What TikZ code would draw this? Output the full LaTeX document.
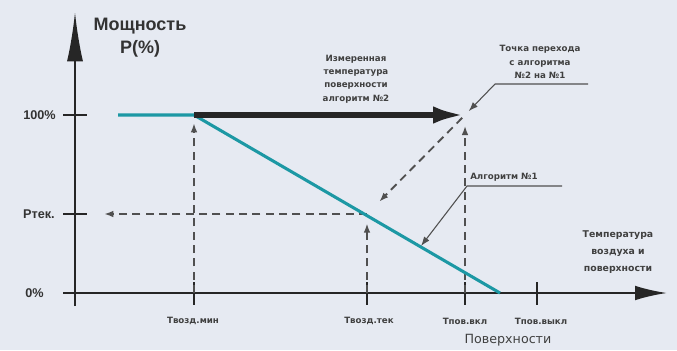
\documentclass[tikz,border=0pt]{standalone}
\usepackage{fontspec}
\setmainfont{Liberation Sans}
\newfontfamily\widefont{DejaVu Sans}
\usetikzlibrary{arrows.meta}
\definecolor{bgcol}{HTML}{E6EAF2}
\definecolor{tealline}{HTML}{1C98A4}
\definecolor{dashgrey}{HTML}{505050}

\begin{document}
\begin{tikzpicture}[x=0.75pt, y=-0.75pt,
                    axis/.style={line width=1.6pt, black!85},
                    tickmark/.style={line width=1.6pt, black!85},
                    guide/.style={dashgrey, line width=1.4pt,
                                  dash pattern=on 6pt off 4pt,
                                  -{Latex[length=7pt, width=5pt]}},
                    leader/.style={dashgrey, line width=0.8pt,
                                   -{Latex[length=7pt, width=5pt]}},
                    small/.style={font=\widefont\bfseries\fontsize{6.5}{10}\selectfont,
                                  text=black!75, align=center, inner sep=0pt},
                    level/.style={font=\bfseries\fontsize{9.5}{11}\selectfont,
                                  text=black!80, anchor=east, inner sep=0pt}]
    \fill[bgcol] (0,0) rectangle (677,350);
    \useasboundingbox (0,0) rectangle (677,350);

    \coordinate (O) at (75,293);
    \coordinate (ytop) at (75,12);
    \coordinate (ybot) at (75,306);
    \coordinate (xleft) at (63,293);
    \coordinate (xright) at (667,293);
    \coordinate (S) at (118,115);
    \coordinate (A) at (194,115);
    \coordinate (B) at (500,293);
    \coordinate (T) at (465,115);
    \coordinate (Pc) at (367,214);
    \coordinate (Pl) at (104,214);
    \coordinate (hit) at (421,246);

    % axes
    \draw[axis, -{Latex[length=37pt, width=12pt]}] (ybot) -- (ytop);
    \draw[axis, -{Latex[length=24pt, width=11pt]}] (xleft) -- (xright);
    \foreach \y in {115, 214} {
            \draw[tickmark] (63,\y) -- (87,\y);
        }
    \foreach \x in {194, 367, 465, 537} {
            \draw[tickmark] (\x,282) -- (\x,305);
        }

    \node[font=\bfseries\fontsize{13.5}{17}\selectfont, text=black!80,
          align=center] (power) at (140,38) {Мощность\\P(\%)};
    \node[level] (p100) at (56,115) {100\%};
    \node[level] (pcur) at (55,214) {Ртек.};
    \node[level] (p0) at (44,293) {0\%};

    % dashed guides
    \draw[guide, shorten >=6pt] (194,293) -- (A);
    \draw[guide, shorten >=7pt] (367,293) -- (Pc);
    \draw[guide, shorten >=8pt] (465,293) -- (T);
    \draw[guide] (Pc) -- (Pl);
    \draw[guide, shorten <=3pt, shorten >=13pt] (T) -- (Pc);

    % characteristic
    \draw[tealline, line width=2.3pt] (S) -- (A) -- (B);
    \draw[black!85, line width=4.5pt, -{Latex[length=24pt, width=13pt]}] (A) -- (T);

    \node[small] (meas) at (356,79) {Измеренная\\температура\\поверхности\\алгоритм №2};

    \node[small] (trans) at (540,62) {Точка перехода\\с алгоритма\\№2 на №1};
    \coordinate (trL) at (495,84);
    \coordinate (trR) at (588,84);
    \draw[leader, shorten >=4pt] (trR) -- (trL) -- (T);

    \node[small, anchor=south west] (alg1) at (470,182) {Алгоритм №1};
    \coordinate (a1L) at (467,186);
    \coordinate (a1R) at (562,186);
    \draw[leader] (a1R) -- (a1L) -- (hit);

    \node[small, font=\widefont\bfseries\fontsize{7}{12.5}\selectfont] (xlab) at (618,252)
        {Температура\\воздуха и\\поверхности};

    \node[small] (tmin) at (193,321) {Твозд.мин};
    \node[small] (tcur) at (369,321) {Твозд.тек};
    \node[small] (ton) at (465,321) {Тпов.вкл};
    \node[small] (toff) at (541,321) {Тпов.выкл};
    \node[small, font=\widefont\fontsize{9.5}{11}\selectfont] (surf) at (508,340) {Поверхности};
\end{tikzpicture}
\end{document}
